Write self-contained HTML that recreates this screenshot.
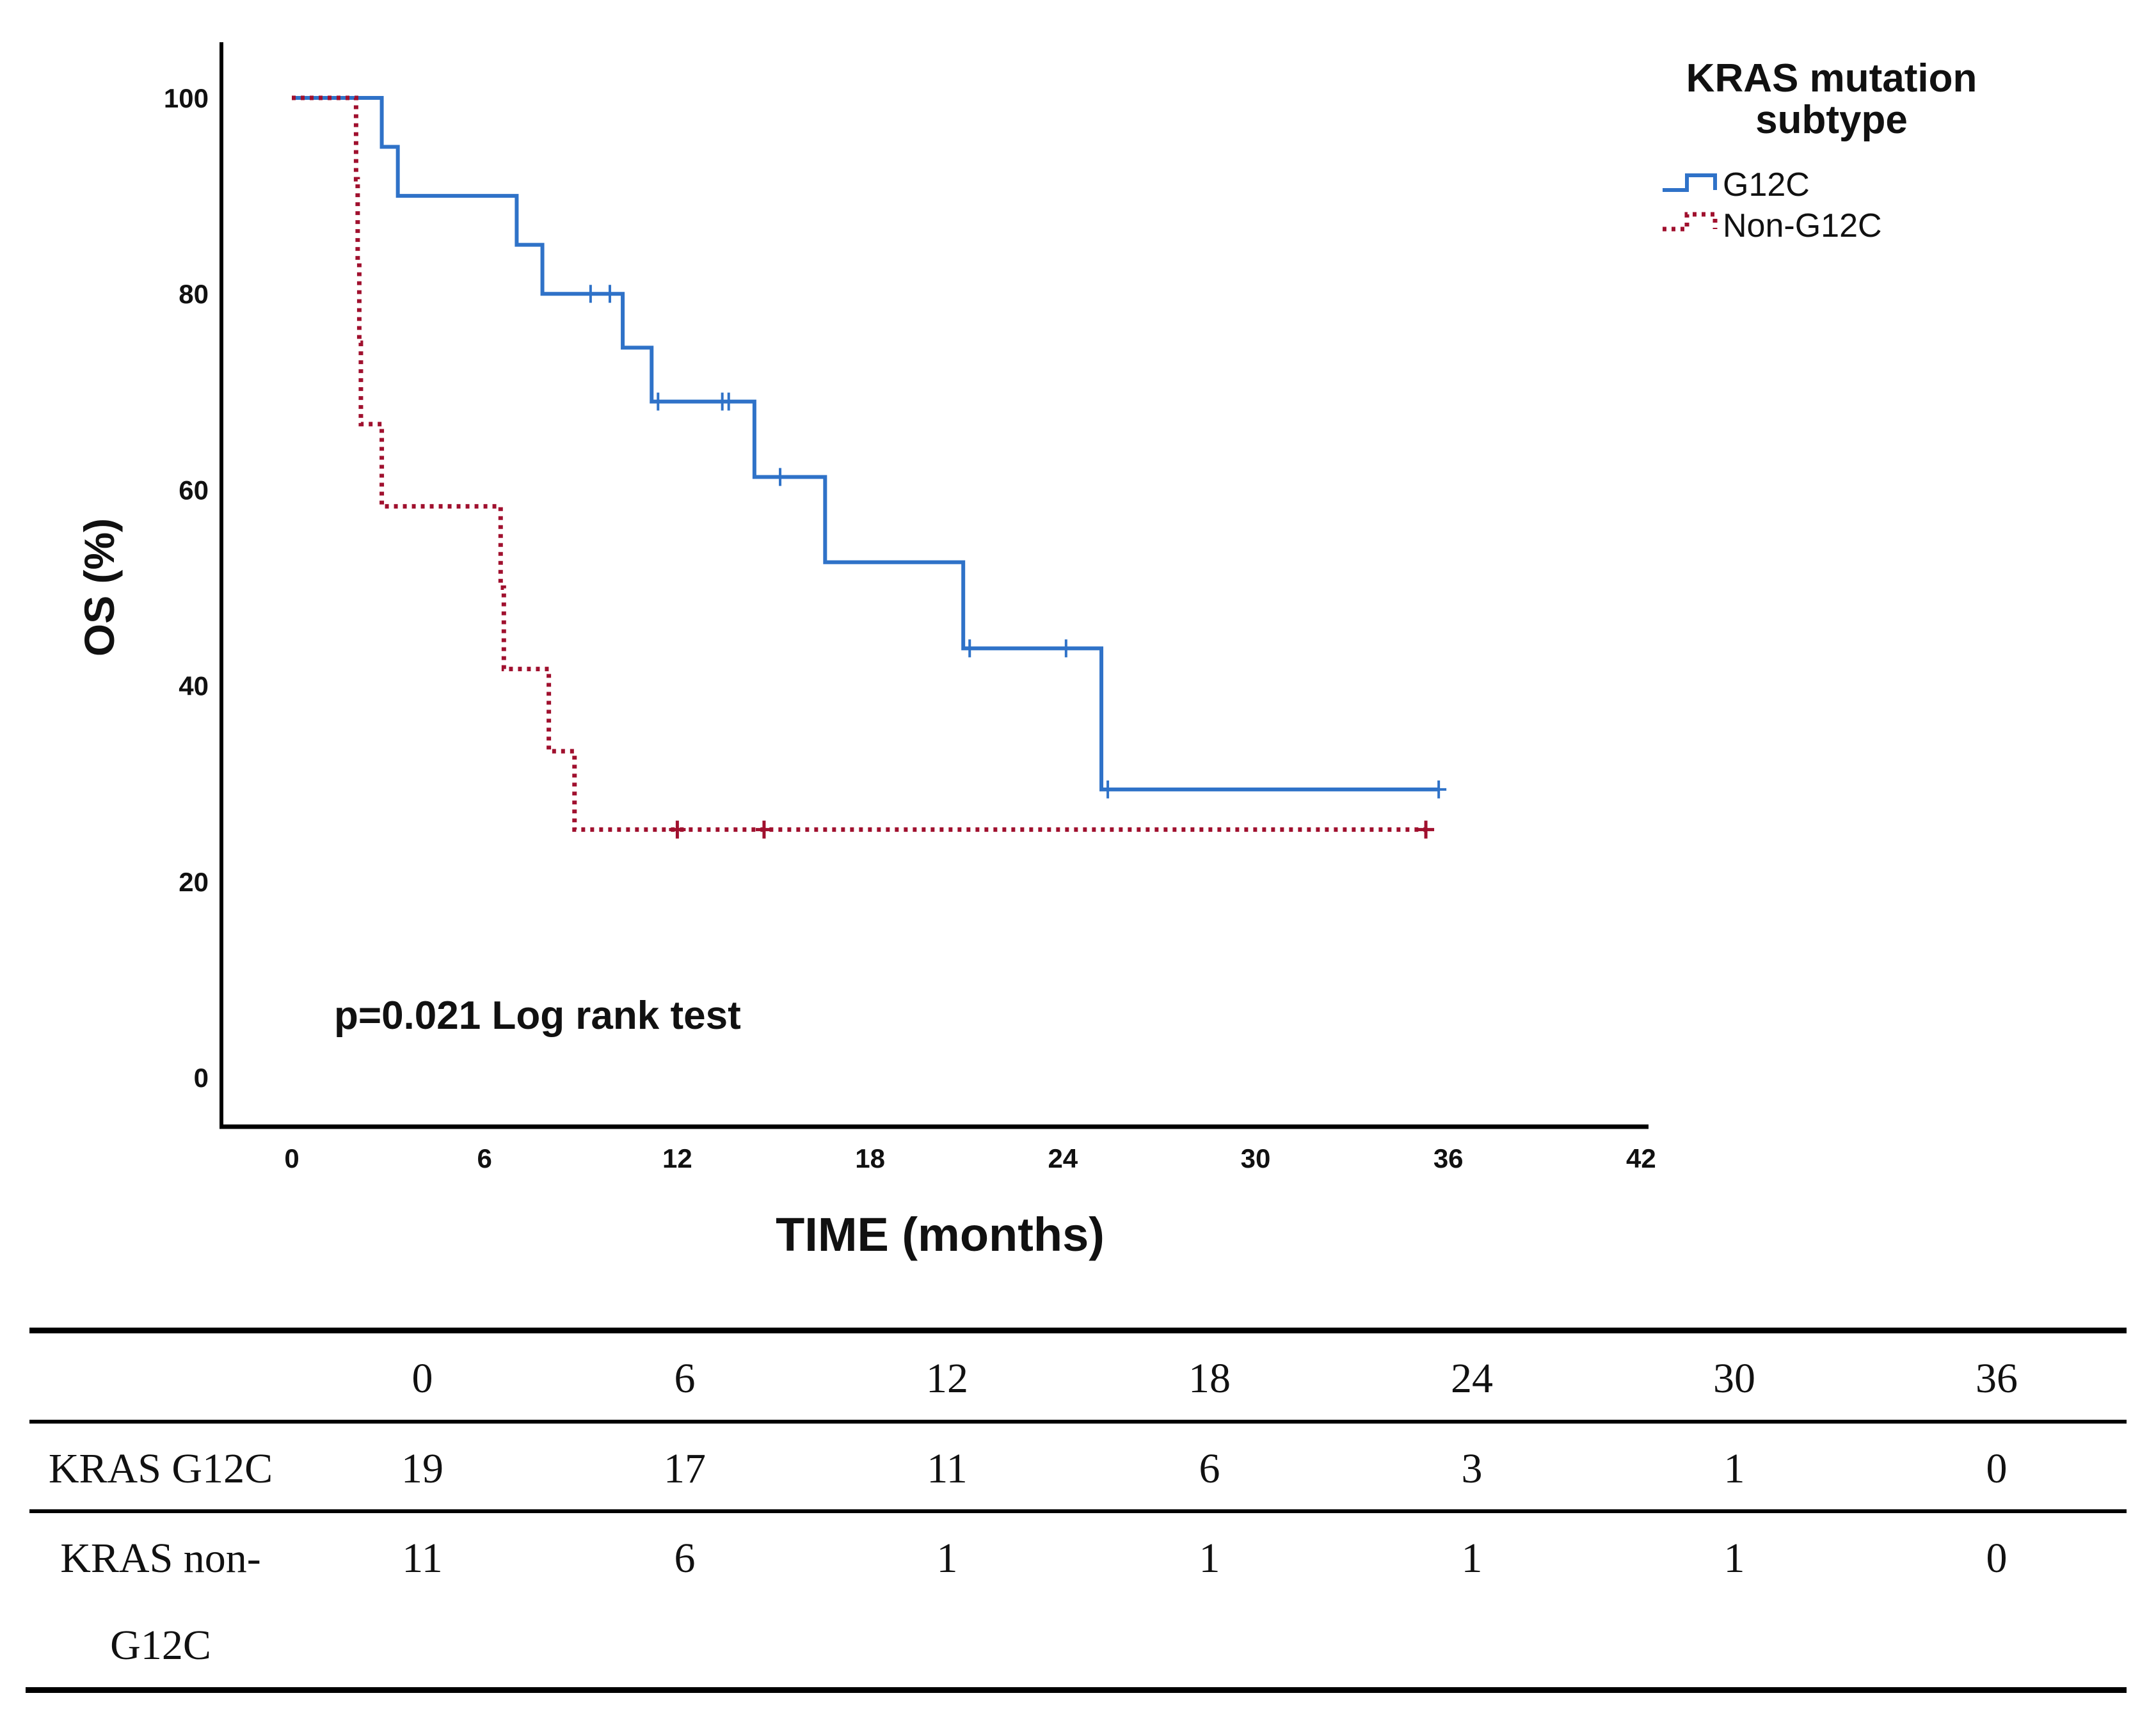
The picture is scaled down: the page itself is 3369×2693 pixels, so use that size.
<!DOCTYPE html>
<html><head><meta charset="utf-8">
<style>
html,body{margin:0;padding:0;background:#fff;}
svg{display:block;}
.tick{font-family:"Liberation Sans",Arial,sans-serif;font-weight:bold;font-size:42px;fill:#111;}
.tbl{font-family:"Liberation Serif",serif;font-size:66px;fill:#111;}
</style></head>
<body>
<svg id="chart" width="3369" height="2693" viewBox="0 0 3369 2693" xmlns="http://www.w3.org/2000/svg">
<g id="axes"></g>
<g id="series"></g>
<text transform="translate(178,918) rotate(-90)" text-anchor="middle" font-family="Liberation Sans,Arial,sans-serif" font-weight="bold" font-size="66" fill="#111">OS (%)</text>
<text x="1469" y="1955" text-anchor="middle" font-family="Liberation Sans,Arial,sans-serif" font-weight="bold" font-size="74" fill="#111">TIME (months)</text>
<text x="522" y="1608" font-family="Liberation Sans,Arial,sans-serif" font-weight="bold" font-size="62" fill="#111">p=0.021 Log rank test</text>
<g font-family="Liberation Sans,Arial,sans-serif" fill="#111">
<text x="2862" y="143" text-anchor="middle" font-weight="bold" font-size="62">KRAS mutation</text>
<text x="2862" y="208" text-anchor="middle" font-weight="bold" font-size="62">subtype</text>
<g>
<path d="M2598 297 H2636 V274 H2680 V297" fill="none" stroke="#2f72c8" stroke-width="6"/>
<text x="2692" y="306" font-size="52">G12C</text></g>
<g>
<path d="M2598 358 H2636 V335 H2680 V358" fill="none" stroke="#a0102e" stroke-width="7" stroke-dasharray="6 8"/>
<text x="2692" y="370" font-size="52">Non-G12C</text></g>
</g>
<g>
<rect x="46" y="2075" width="3277" height="9" fill="#000"/>
<rect x="46" y="2219" width="3277" height="6" fill="#000"/>
<rect x="46" y="2359" width="3277" height="6" fill="#000"/>
<rect x="40" y="2637" width="3283" height="9" fill="#000"/>
<g id="tbltext"></g>
</g>
</svg>
<script>
const xTicks=[0,6,12,18,24,30,36,42];
const yTicks=[0,20,40,60,80,100];
const g12cTimes=[0,2.8,3.3,7.0,7.8,10.3,11.2,14.4,16.6,20.9,25.2];
const g12cValues=[100,95,90,85,80,74.5,69,61.3,52.6,43.8,29.4];
const g12cEnd=35.7;
const g12cCensor=[9.3,9.9,11.4,13.4,13.6,15.2,21.1,24.1,25.4,35.7];
const nonTimes=[0,2.0,2.05,2.1,2.15,2.2,2.8,6.5,6.6,8.0,8.8];
const nonValues=[100,91.7,83.3,75,66.7,66.7,58.3,50,41.7,33.3,25.3];
const nonEnd=35.3;
const nonCensor=[12.0,14.7,35.3];
const tableCols=["0","6","12","18","24","30","36"];
const g12cRisk=["19","17","11","6","3","1","0"];
const nonRisk=["11","6","1","1","1","1","0"];

const NS="http://www.w3.org/2000/svg";
const X=t=>456+t*50.2;
const Y=v=>1684-v*15.31;
function mk(tag,attrs,parent){const e=document.createElementNS(NS,tag);for(const k in attrs)e.setAttribute(k,attrs[k]);parent.appendChild(e);return e;}
const axes=document.getElementById('axes');
const ya=mk('line',{x1:346,y1:66,x2:346,y2:1764,stroke:'#000','stroke-width':6},axes);


const xa=mk('line',{x1:343,y1:1761,x2:2576,y2:1761,stroke:'#000','stroke-width':7},axes);


xTicks.forEach(t=>{const e=mk('text',{x:X(t),y:1825,'text-anchor':'middle',class:'tick'},axes);e.textContent=t;

});
yTicks.forEach(v=>{const e=mk('text',{x:326,y:Y(v)+15,'text-anchor':'end',class:'tick'},axes);e.textContent=v;

});
const ser=document.getElementById('series');
function stepPath(ts,vs,end){let d=`M${X(ts[0])} ${Y(vs[0])}`;for(let i=1;i<ts.length;i++){d+=` H${X(ts[i])} V${Y(vs[i])}`;}d+=` H${X(end)}`;return d;}
function valAt(ts,vs,t){let v=vs[0];for(let i=0;i<ts.length;i++)if(ts[i]<=t)v=vs[i];return v;}
const p1=mk('path',{d:stepPath(g12cTimes,g12cValues,g12cEnd),fill:'none',stroke:'#2f72c8','stroke-width':6},ser);


const p2=mk('path',{d:stepPath(nonTimes,nonValues,nonEnd),fill:'none',stroke:'#a0102e','stroke-width':7,'stroke-dasharray':'6 8'},ser);


g12cCensor.forEach(t=>{const x=X(t),y=Y(valAt(g12cTimes,g12cValues,t));
const c=mk('path',{d:`M${x} ${y-14} V${y+14} M${x-12} ${y} H${x+12}`,stroke:'#2f72c8','stroke-width':4},ser);

});
nonCensor.forEach(t=>{const x=X(t),y=Y(valAt(nonTimes,nonValues,t));
const c=mk('path',{d:`M${x} ${y-14} V${y+14} M${x-13} ${y} H${x+13}`,stroke:'#a0102e','stroke-width':5},ser);

});
const tt=document.getElementById('tbltext');
const colX=[660,1070,1480,1890,2300,2710,3120];
function cell(txt,x,y,name){const e=mk('text',{x:x,y:y,'text-anchor':'middle',class:'tbl'},tt);e.textContent=txt;

}
tableCols.forEach((c,i)=>cell(c,colX[i],2176,'table-header-cell'));
g12cRisk.forEach((c,i)=>cell(c,colX[i],2317,'g12c-risk-cell'));
nonRisk.forEach((c,i)=>cell(c,colX[i],2457,'non-g12c-risk-cell'));
cell('KRAS G12C',251,2317,'row-label-g12c');
cell('KRAS non-',251,2457,'row-label-non-g12c');
cell('G12C',251,2593,'row-label-non-g12c-line2');
</script>
</body></html>
